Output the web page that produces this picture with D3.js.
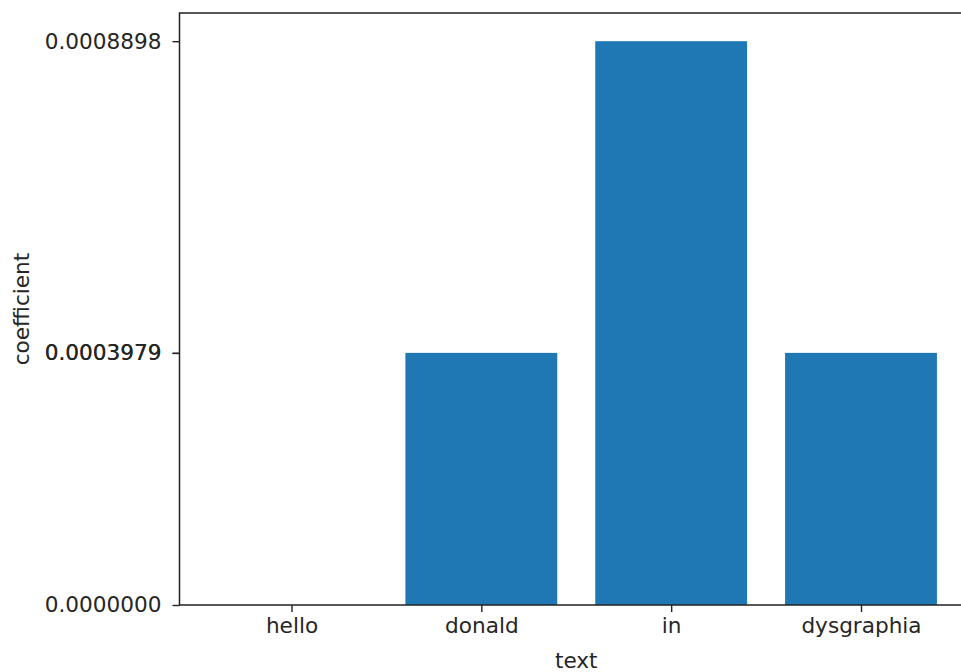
<!DOCTYPE html>
<html>
<head>
<meta charset="utf-8">
<script src="https://cdn.jsdelivr.net/npm/d3@7"></script>
<style>
  html, body { margin: 0; padding: 0; background: #fff; }
  svg { display: block; }
  text { font-family: "DejaVu Sans", sans-serif; fill: #262626; }
</style>
</head>
<body>
<svg id="chart" width="961" height="672"></svg>
<script>
const categories = ["hello", "donald", "in", "dysgraphia"];
const values = [0.0, 0.0003979, 0.0008898, 0.0003979];
const yTickValues = [0.0, 0.0003979, 0.0003979, 0.0008898];
const xLabel = "text";
const yLabel = "coefficient";

(function () {
const svg = d3.select("#chart");
const mLeft = 179.5, mTop = 13, mBottom = 605, mRight = 973;
const fontSize = 21.6;

const barW = 0.8;
const xmin = -barW / 2, xmax = categories.length - 1 + barW / 2;
const xm = (xmax - xmin) * 0.05;
const x = d3.scaleLinear().domain([xmin - xm, xmax + xm]).range([mLeft, mRight]);
const ymax = d3.max(values);
const y = d3.scaleLinear().domain([0, ymax * 1.05]).range([mBottom, mTop]);

// bars
svg.append("g").selectAll("rect").data(values).join("rect")
  .attr("x", (d, i) => x(i - barW / 2))
  .attr("width", (d, i) => x(i + barW / 2) - x(i - barW / 2))
  .attr("y", d => y(d))
  .attr("height", d => y(0) - y(d))
  .attr("fill", "#1f77b4");

// axes
const xAxis = d3.axisBottom(x)
  .tickValues(categories.map((c, i) => i))
  .tickFormat(i => categories[i])
  .tickSize(7).tickPadding(6);
const gx = svg.append("g").attr("transform", `translate(0,${mBottom})`).call(xAxis);

const yAxis = d3.axisLeft(y)
  .tickValues(yTickValues)
  .tickFormat(d => d.toFixed(7))
  .tickSize(7).tickPadding(11);
const gy = svg.append("g").attr("transform", `translate(${mLeft},0)`).call(yAxis);

[gx, gy].forEach(g => {
  g.select(".domain").remove();
  g.selectAll(".tick line").attr("stroke", "#222").attr("stroke-width", 1.4);
  g.selectAll(".tick text").attr("font-size", fontSize).attr("font-family", "DejaVu Sans").attr("fill", "#262626");
});

// spines
svg.append("rect")
  .attr("x", mLeft).attr("y", mTop)
  .attr("width", mRight - mLeft).attr("height", mBottom - mTop)
  .attr("fill", "none").attr("stroke", "#222").attr("stroke-width", 1.5);

// labels
svg.append("text")
  .attr("x", (mLeft + mRight) / 2).attr("y", 668)
  .attr("text-anchor", "middle").attr("font-size", fontSize)
  .text(xLabel);
svg.append("text")
  .attr("transform", `translate(29,${(mTop + mBottom) / 2}) rotate(-90)`)
  .attr("text-anchor", "middle").attr("font-size", fontSize)
  .text(yLabel);
})();
</script>
</body>
</html>
